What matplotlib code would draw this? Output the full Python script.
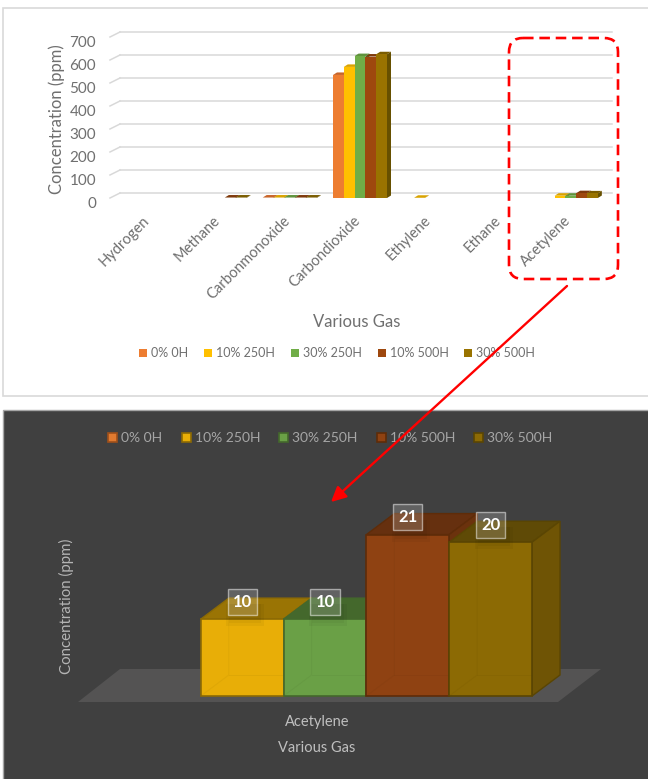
import matplotlib
matplotlib.use("Agg")
import matplotlib.pyplot as plt
from matplotlib.patches import Rectangle, Polygon, FancyBboxPatch, FancyArrowPatch
from matplotlib.transforms import ScaledTranslation

plt.rcParams['font.family'] = ['Lato', 'DejaVu Sans']

gases = ['Hydrogen', 'Methane', 'Carbonmonoxide', 'Carbondioxide', 'Ethylene', 'Ethane', 'Acetylene']
series = ['0% 0H', '10% 250H', '30% 250H', '10% 500H', '30% 500H']
v_0_0 = [0, 0, 2, 535, 0, 0, 0]
v_10_250 = [0, 0, 2, 570, 1, 0, 10]
v_30_250 = [0, 0, 2, 617, 0, 0, 10]
v_10_500 = [0, 2, 2, 615, 0, 0, 21]
v_30_500 = [0, 2, 2, 625, 0, 0, 20]
all_vals = [v_0_0, v_10_250, v_30_250, v_10_500, v_30_500]
yticks = [0, 100, 200, 300, 400, 500, 600, 700]

# acetylene zoom panel
zoom_vals = [0, 10, 10, 21, 20]

colors = ['#ED7D31', '#FFC000', '#70AD47', '#9E480E', '#997300']
tops = ['#C8652A', '#D9A300', '#5F933C', '#7E390B', '#7A5C00']
sides = ['#A9551F', '#B38700', '#4E7A31', '#6A300A', '#665000']
dark_front = ['#E07A30', '#E8AE07', '#6AA046', '#8F4212', '#8C6A04']
dark_edge = ['#9E4F1A', '#8C6A04', '#44682C', '#5E2C09', '#5A4503']
dark_top = ['#A05A20', '#9A7404', '#44682C', '#66300F', '#5F4A06']
dark_side = ['#8A4A18', '#7E5F04', '#3E5C28', '#6B320D', '#6F5405']

W, H = 648, 779
fig = plt.figure(figsize=(W / 100, H / 100), dpi=100, facecolor='white')


def px_axes(left, top, right, bottom, **kw):
    return fig.add_axes([left / W, 1 - bottom / H, (right - left) / W, (bottom - top) / H], **kw)


# background layer, pixel coordinates
bg = fig.add_axes([0, 0, 1, 1], zorder=0)
bg.set_xlim(0, W)
bg.set_ylim(H, 0)
bg.axis('off')
bg.add_patch(Rectangle((3, 8), 660, 388, fc='white', ec='#d9d9d9', lw=1.2))
bg.add_patch(Rectangle((3, 410), 660, 380, fc='#404040', ec='#a6a6a6', lw=1.0))
bg.add_patch(Polygon([(78, 702), (120, 669), (601, 669), (558, 702)], fc='#545353', ec='none'))

# top chart
ax = px_axes(114, 37, 606, 198, zorder=1)
ax.set_xlim(0, 7)
ax.set_ylim(0, 700)
ax.patch.set_alpha(0)
for s in ax.spines.values():
    s.set_visible(False)

sx = 7 / 492.0
sy = 700 / 161.0
for v in yticks:
    ax.plot([6 * sx, 7 + 6 * sx], [v + 5 * sy, v + 5 * sy], color='#d9d9d9', lw=1.1, clip_on=False, zorder=1)
    ax.plot([-4 * sx, 6 * sx], [v, v + 5 * sy], color='#d9d9d9', lw=1.1, clip_on=False, zorder=1)

bw = 54 / 5 / 70.3
depth_x = 4 * sx
depth_y = 2.5 * sy
for s, vals in enumerate(all_vals):
    for i, v in enumerate(vals):
        if v == 0:
            continue
        x0 = i + 0.5 + (s - 2.5) * bw
        x1 = x0 + bw
        ax.add_patch(Polygon([(x0, v), (x0 + depth_x, v + depth_y), (x1 + depth_x, v + depth_y), (x1, v)],
                             fc=tops[s], ec='none', zorder=3, clip_on=False))
        ax.add_patch(Polygon([(x1, 0), (x1 + depth_x, depth_y), (x1 + depth_x, v + depth_y), (x1, v)],
                             fc=sides[s], ec='none', zorder=3, clip_on=False))
    pos = [i + 0.5 + (s - 2) * bw for i in range(len(gases))]
    ax.bar(pos, vals, width=bw, color=colors[s], label=series[s], zorder=4)

ax.set_yticks(yticks)
ax.set_xticks([i + 0.5 for i in range(len(gases))])
ax.set_xticklabels(gases, rotation=45, ha='right', rotation_mode='anchor', fontsize=10.5, color='#6f6f6f')
ax.tick_params(axis='both', length=0)
ax.tick_params(axis='x', pad=11)
ax.tick_params(axis='y', pad=13)
for lab in ax.get_xticklabels():
    lab.set_transform(lab.get_transform() + ScaledTranslation(-5 / 72, 0, fig.dpi_scale_trans))
for lab in ax.get_yticklabels():
    lab.set_fontsize(11)
    lab.set_color('#6f6f6f')
    lab.set_transform(lab.get_transform() + ScaledTranslation(0, -3.5 / 72, fig.dpi_scale_trans))

bg.text(57, 119, 'Concentration (ppm)', rotation=90, ha='center', va='center', fontsize=12, color='#6f6f6f')
bg.text(357, 322, 'Various Gas', ha='center', va='center', fontsize=12, color='#6f6f6f')

# legend of the top chart
top_lx = [143, 208, 295, 382, 468]
for s, name in enumerate(series):
    bg.add_patch(Rectangle((top_lx[s] - 4, 349), 8, 8, fc=colors[s], ec='none'))
    bg.text(top_lx[s] + 8, 353, name, ha='left', va='center', fontsize=9, color='#6f6f6f')

# bottom chart, one category
ax2 = px_axes(118, 450, 532, 696, zorder=1)
ax2.set_xlim(0, 5)
ax2.set_ylim(0, 32)
ax2.axis('off')

ux = 5 / 414.0
uy = 32 / 246.0
dx = 28 * ux
dy = 21 * uy
for s, v in enumerate(zoom_vals):
    if v == 0:
        continue
    x0, x1 = s, s + 1
    ec = dark_edge[s]
    ax2.add_patch(Polygon([(x0, v), (x0 + dx, v + dy), (x1 + dx, v + dy), (x1, v)], fc=dark_top[s], ec=ec, lw=1,
                          clip_on=False, zorder=2 + s))
    ax2.add_patch(Polygon([(x1, 0), (x1 + dx, dy), (x1 + dx, v + dy), (x1, v)], fc=dark_side[s], ec=ec, lw=1,
                          clip_on=False, zorder=2 + s))
    ax2.bar(s + 0.5, v, width=1, color=dark_front[s], edgecolor=ec, lw=1.2, clip_on=False, zorder=2 + s)
    # see-through back edges
    ax2.plot([x0, x0 + dx, x0 + dx], [0, dy, v + dy], color=ec, lw=0.7, alpha=0.1, clip_on=False, zorder=2.5 + s)
    ax2.plot([x0 + dx, x1], [dy, dy], color=ec, lw=0.7, alpha=0.1, clip_on=False, zorder=2.5 + s)
    # soft shadow under the label
    for grow in (0, 3):
        ax2.add_patch(Rectangle((s + 0.5 - (13 + grow) * ux, v - (4 + grow) * uy), (32 + 2 * grow) * ux,
                                (19 + grow) * uy, fc='black', ec='none', alpha=0.04, zorder=2.8 + s))
    ax2.annotate(str(v), (s + 0.5, v), xytext=(0, 12.5), textcoords='offset points', ha='center', va='center',
                 fontsize=12, fontweight='bold', color='white', zorder=20,
                 bbox=dict(boxstyle='square,pad=0.3', fc=(1, 1, 1, 0.18), ec=(1, 1, 1, 0.5), lw=1))

# legend of the bottom chart
lx = [112, 186, 283, 381, 478]
for s, name in enumerate(series):
    bg.add_patch(Rectangle((lx[s] - 4.5, 433), 9, 9, fc=dark_front[s], ec=dark_edge[s], lw=1.2))
    bg.text(lx[s] + 9, 437.5, name, ha='left', va='center', fontsize=10, color='#a6a6a6')

bg.text(66, 606, 'Concentration (ppm)', rotation=90, ha='center', va='center', fontsize=10.8, color='#b5b5b5')
bg.text(317, 722, 'Acetylene', ha='center', va='center', fontsize=10.5, color='#bfbfbf')
bg.text(317, 748, 'Various Gas', ha='center', va='center', fontsize=10.5, color='#bfbfbf')

# callout on top of everything
over = fig.add_axes([0, 0, 1, 1], zorder=5)
over.set_xlim(0, W)
over.set_ylim(H, 0)
over.axis('off')
over.add_patch(FancyBboxPatch((509 + 14, 38 + 14), 109 - 28, 241 - 28, boxstyle='round,pad=14,rounding_size=14',
                              fc='none', ec='#ff0000', lw=1.9, linestyle=(0, (4, 2.2))))
over.add_patch(FancyArrowPatch((567, 286), (331, 502), arrowstyle='-|>,head_length=9,head_width=4.5', color='#ff0000',
                               lw=1.7, shrinkA=0, shrinkB=0))

fig.savefig('out.png', dpi=100)
